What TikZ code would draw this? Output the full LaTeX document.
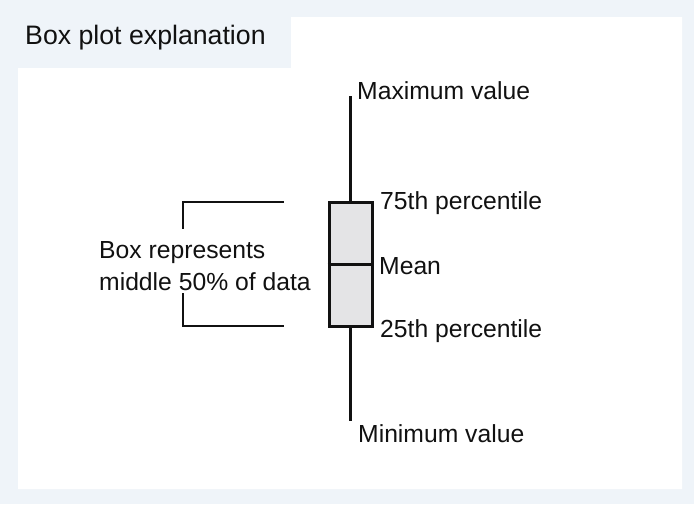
\documentclass[tikz,border=0pt]{standalone}
\usepackage{fontspec}
\setmainfont{Liberation Sans}
\definecolor{pagebg}{HTML}{EFF4F9}
\definecolor{boxfill}{HTML}{E4E4E6}
\definecolor{ink}{HTML}{111111}
\begin{document}
\begin{tikzpicture}[x=1pt,y=-1pt,
  label text/.style={anchor=base west,inner sep=0pt,text=ink,font=\fontsize{24.7}{32}\selectfont},
  title text/.style={anchor=base west,inner sep=0pt,text=ink,font=\fontsize{26.7}{32}\selectfont},
  whisker/.style={draw=ink,line width=3pt},
  iqrbox/.style={draw=ink,fill=boxfill,line width=3pt,minimum width=43pt,minimum height=124pt,inner sep=0pt},
  bracket/.style={draw=ink,line width=2pt}]
\useasboundingbox (0,0) rectangle (694,504);
% page background and white panel with the title tab
\fill[pagebg] (0,0) rectangle (694,504);
\fill[white] (18,68) -- (291,68) -- (291,17) -- (682,17) -- (682,489) -- (18,489) -- cycle;
\node[title text] (title) at (25,44) {Box plot explanation};

% whiskers and box
\coordinate (maxend) at (350.5,96);
\coordinate (minend) at (350.5,421);
\draw[whisker] (350.5,202) -- (maxend);
\draw[whisker] (350.5,326) -- (minend);
\node[iqrbox] (box) at (350.5,264) {};
\draw[whisker] (box.west) -- (box.east);

% bracket around the box span
\coordinate (bt1) at (283,202);
\coordinate (bt2) at (183,202);
\coordinate (bt3) at (183,228);
\coordinate (bb1) at (183,294);
\coordinate (bb2) at (183,326);
\coordinate (bb3) at (283,326);
\draw[bracket,line cap=rect] (bt1) -- (bt2) -- (bt3);
\draw[bracket,line cap=rect] (bb1) -- (bb2) -- (bb3);

% labels
\node[label text] (maxlbl) at (357,99) {Maximum value};
\node[label text] (q3lbl) at (380,209) {75th percentile};
\node[label text] (meanlbl) at (379,274) {Mean};
\node[label text] (q1lbl) at (380,337.5) {25th percentile};
\node[label text] (minlbl) at (358,442.5) {Minimum value};
\node[label text] (iqr1) at (99,258) {Box represents};
\node[label text] (iqr2) at (99,290) {middle 50\% of data};
\end{tikzpicture}
\end{document}
